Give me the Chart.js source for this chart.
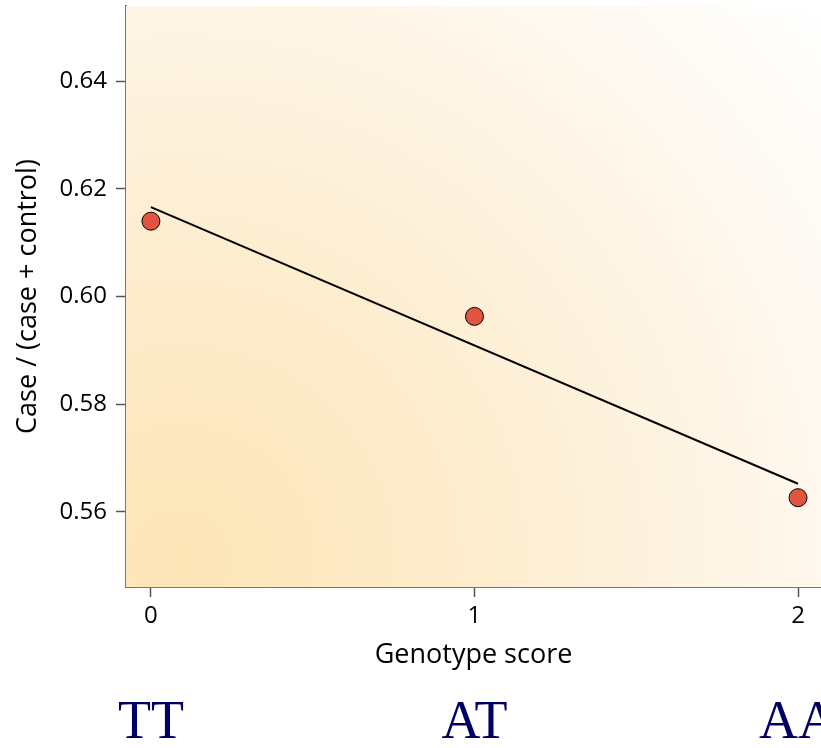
<!DOCTYPE html>
<html>
<head>
<meta charset="utf-8">
<script src="https://cdn.jsdelivr.net/npm/chart.js@4"></script>
<style>
  html, body { margin: 0; padding: 0; background: #fff; }
  #wrap { width: 821px; height: 748px; }
</style>
</head>
<body>
<div id="wrap"><canvas id="chart"></canvas></div>
<script>
// genotype scores and observed proportions
var scores = [0, 1, 2];
var proportions = [0.6140, 0.5963, 0.5626];
var genotypes = ['TT', 'AT', 'AA'];
// fitted trend line end points
var fitX = [0, 2];
var fitY = [0.6166, 0.5652];
var yTicks = [0.56, 0.58, 0.60, 0.62, 0.64];
var xTicks = [0, 1, 2];

var tickFont = { family: 'Open Sans', size: 24 };
var titleFont = { family: 'Open Sans', size: 27 };

var panelBg = {
    id: 'panelBg',
    beforeDatasetsDraw: function(chart) {
        var a = chart.chartArea, ctx = chart.ctx;
        var cx = a.left + 54, cy = a.bottom - 27;
        var r = Math.sqrt(Math.pow(a.right - cx, 2) + Math.pow(cy - a.top, 2));
        var g = ctx.createRadialGradient(cx, cy, 0, cx, cy, r);
        g.addColorStop(0, '#fce5b6');
        g.addColorStop(0.35, '#fdedce');
        g.addColorStop(0.65, '#fef5e6');
        g.addColorStop(1, '#ffffff');
        ctx.save();
        ctx.fillStyle = g;
        ctx.fillRect(a.left, a.top, a.right - a.left, a.bottom - a.top);
        ctx.restore();
    }
};

var genotypeLabels = {
    id: 'genotypeLabels',
    afterDraw: function(chart) {
        var ctx = chart.ctx, xs = chart.scales.x;
        ctx.save();
        ctx.font = '54px "Liberation Serif"';
        ctx.fillStyle = '#000066';
        ctx.textAlign = 'center';
        ctx.textBaseline = 'alphabetic';
        genotypes.forEach(function(g, i) {
            ctx.fillText(g, xs.getPixelForValue(scores[i]), 738);
        });
        ctx.restore();
    }
};

var ctx = document.getElementById('chart');
var myChart = new Chart(ctx, {
    type: 'scatter',
    data: {
        datasets: [{
            type: 'line',
            data: fitX.map(function(x, i) { return { x: x, y: fitY[i] }; }),
            borderColor: '#000',
            borderWidth: 2,
            pointRadius: 0,
            fill: false
        }, {
            data: scores.map(function(x, i) { return { x: x, y: proportions[i] }; }),
            backgroundColor: '#e15540',
            borderColor: '#000',
            borderWidth: 1,
            pointRadius: 9
        }]
    },
    options: {
        responsive: true,
        maintainAspectRatio: false,
        animation: false,
        layout: { autoPadding: false, padding: { top: 6, right: 0, bottom: 76, left: 8 } },
        plugins: {
            legend: { display: false },
            tooltip: { enabled: false }
        },
        scales: {
            x: {
                type: 'linear',
                min: -0.077,
                max: 2.071,
                afterBuildTicks: function(axis) {
                    axis.ticks = xTicks.map(function(v) { return { value: v }; });
                },
                afterFit: function(axis) {
                    axis.height = 85;
                    axis.paddingLeft = 0;
                    axis.paddingRight = 0;
                },
                ticks: { font: tickFont, color: '#000', padding: 5, maxRotation: 0 },
                grid: { drawOnChartArea: false, drawTicks: true, tickLength: 10, color: '#555', tickWidth: 1.5 },
                border: { display: true, color: '#777', width: 2 },
                title: { display: true, text: 'Genotype score', font: titleFont, color: '#000', padding: { top: 0, bottom: 0 } }
            },
            y: {
                min: 0.546,
                max: 0.654,
                afterBuildTicks: function(axis) {
                    axis.ticks = yTicks.map(function(v) { return { value: v }; });
                },
                afterFit: function(axis) {
                    axis.width = 118;
                    axis.paddingTop = 0;
                    axis.paddingBottom = 0;
                },
                ticks: {
                    font: tickFont, color: '#000', padding: 9,
                    callback: function(v) { return v.toFixed(2); }
                },
                grid: { drawOnChartArea: false, drawTicks: true, tickLength: 10, color: '#555', tickWidth: 1.5 },
                border: { display: true, color: '#777', width: 2 },
                title: { display: true, text: 'Case / (case + control)', font: titleFont, color: '#000', padding: { top: 4, bottom: 0 } }
            }
        }
    },
    plugins: [panelBg, genotypeLabels]
});
</script>
</body>
</html>
